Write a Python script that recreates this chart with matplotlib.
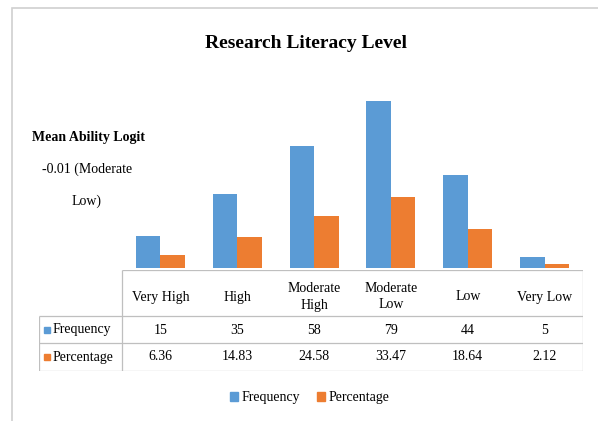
import matplotlib
matplotlib.use("Agg")
import matplotlib.pyplot as plt
from matplotlib.patches import Patch, Rectangle

plt.rcParams['font.family'] = ['Liberation Serif', 'DejaVu Serif']

categories = ["Very High", "High", "Moderate\nHigh", "Moderate\nLow", "Low", "Very Low"]
frequency = [15, 35, 58, 79, 44, 5]
percentage = [6.36, 14.83, 24.58, 33.47, 18.64, 2.12]
freq_labels = ["15", "35", "58", "79", "44", "5"]
pct_labels = ["6.36", "14.83", "24.58", "33.47", "18.64", "2.12"]
series = ["Frequency", "Percentage"]

blue = "#5B9BD5"
orange = "#ED7D31"
grid = "#BFBFBF"

W, H = 598, 421
fig = plt.figure(figsize=(W / 100, H / 100), dpi=100)

# outer frame of the chart object
fig.add_artist(Rectangle((12 / W, -0.05), 1.1, 1 - 8 / H + 0.05, transform=fig.transFigure,
                         fill=False, edgecolor="#D0D0D0", linewidth=1.2))

# bar area
ax = fig.add_axes([122 / W, 1 - 268 / H, 461 / W, 190 / H])
x = list(range(len(categories)))
bw = 0.318
ax.bar([i + 0.5 - bw / 2 for i in x], frequency, bw, color=blue)
ax.bar([i + 0.5 + bw / 2 for i in x], percentage, bw, color=orange)
ax.set_xlim(0, 6)
ax.set_ylim(0, 90)
ax.axis("off")

# data table
tax = fig.add_axes([39 / W, 1 - 371 / H, 544 / W, 101 / H])
left = -83 / (461 / 6)
tax.set_xlim(left, 6)
tax.set_ylim(101, 0)
tax.axis("off")
lw = 0.9
tax.hlines(0, 0, 6, color=grid, lw=lw)
tax.hlines([46, 73, 101], left, 6, color=grid, lw=lw)
tax.vlines([0, 6], 0, 101, color=grid, lw=lw)
tax.vlines(left, 46, 101, color=grid, lw=lw)

for i, c in enumerate(categories):
    tax.text(i + 0.5, 27, c, ha="center", va="center", fontsize=10, linespacing=1.3)
    tax.text(i + 0.5, 60, freq_labels[i], ha="center", va="center", fontsize=10)
    tax.text(i + 0.5, 87, pct_labels[i], ha="center", va="center", fontsize=10)

for yy, name, col in [(60, series[0], blue), (87, series[1], orange)]:
    tax.plot([left + 0.10], [yy], marker="s", markersize=4, color=col, clip_on=False)
    tax.text(left + 0.17, yy, name, ha="left", va="center", fontsize=10)

# title and annotation
fig.text(306 / W, 1 - 43 / H, "Research Literacy Level", ha="center", va="center",
         fontsize=14, fontweight="bold")
fig.text(88 / W, 1 - 137 / H, "Mean Ability Logit", ha="center", va="center",
         fontsize=10, fontweight="bold")
fig.text(87 / W, 1 - 169 / H, "-0.01 (Moderate", ha="center", va="center", fontsize=10)
fig.text(87 / W, 1 - 201 / H, "Low)", ha="center", va="center", fontsize=10)

# legend
handles = [Patch(color=blue, label=series[0]), Patch(color=orange, label=series[1])]
fig.legend(handles=handles, loc="center", bbox_to_anchor=(310 / W, 1 - 398 / H), ncol=2,
           frameon=False, fontsize=10, handlelength=0.55, handleheight=0.55,
           handletextpad=0.3, columnspacing=1.2)

fig.savefig("out.png", dpi=100)
